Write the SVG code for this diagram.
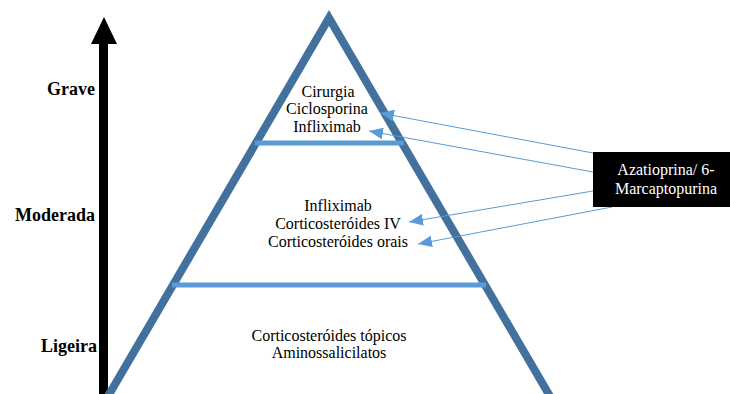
<svg xmlns="http://www.w3.org/2000/svg" width="730" height="394" viewBox="0 0 730 394">
<style>
.t{font-size:16px;fill:#000;text-anchor:middle}
.lvl{font-size:18px;font-weight:bold;fill:#000;text-anchor:end}
.w{font-size:16px;fill:#fff;text-anchor:middle}
.edge{fill:none;stroke:#41719C;stroke-width:8;stroke-linejoin:miter}
.tier{stroke:#5B9BD5;stroke-width:5}
.conn{stroke:#5B9BD5;stroke-width:1;fill:none;marker-end:url(#ah)}
</style>
<defs>
<marker id="ah" markerUnits="userSpaceOnUse" markerWidth="14" markerHeight="12" refX="12" refY="5" orient="auto" viewBox="0 0 12 10">
<path d="M0,0 L12,5 L0,10 Z" fill="#5B9BD5"/>
</marker>
</defs>
<rect width="730" height="394" fill="#fff"/>
<g id="axis" font-family="Liberation Serif, serif">
<rect x="99" y="42" width="9" height="352" fill="#000"/>
<path d="M91,44 L104,17 L117,44 Z" fill="#000"/>
<text class="lvl" x="95" y="95">Grave</text>
<text class="lvl" x="95" y="221">Moderada</text>
<text class="lvl" x="97" y="352">Ligeira</text>
</g>
<g id="pyramid">
<polyline class="edge" points="107,398 329,18 551,398"/>
<line class="tier" x1="255" y1="143" x2="404" y2="143"/>
<line class="tier" x1="172" y1="285" x2="486" y2="285"/>
</g>
<g id="grave" font-family="Liberation Serif, serif">
<text class="t" x="328" y="97">Cirurgia</text>
<text class="t" x="327" y="114">Ciclosporina</text>
<text class="t" x="327" y="132">Infliximab</text>
</g>
<g id="moderada" font-family="Liberation Serif, serif">
<text class="t" x="338" y="211">Infliximab</text>
<text class="t" x="338" y="229">Corticosteróides IV</text>
<text class="t" x="338" y="247">Corticosteróides orais</text>
</g>
<g id="ligeira" font-family="Liberation Serif, serif">
<text class="t" x="329" y="341">Corticosteróides tópicos</text>
<text class="t" x="329" y="358">Aminossalicilatos</text>
</g>
<g id="connectors">
<line class="conn" x1="593" y1="153" x2="380" y2="113"/>
<line class="conn" x1="593" y1="172" x2="369" y2="131"/>
<line class="conn" x1="593" y1="191" x2="409" y2="222"/>
<line class="conn" x1="612" y1="207" x2="418" y2="244"/>
</g>
<g id="azatioprina" font-family="Liberation Serif, serif">
<rect x="593" y="152" width="137" height="55" fill="#000"/>
<text class="w" x="666" y="175">Azatioprina/ 6-</text>
<text class="w" x="666" y="194">Marcaptopurina</text>
</g>
</svg>
